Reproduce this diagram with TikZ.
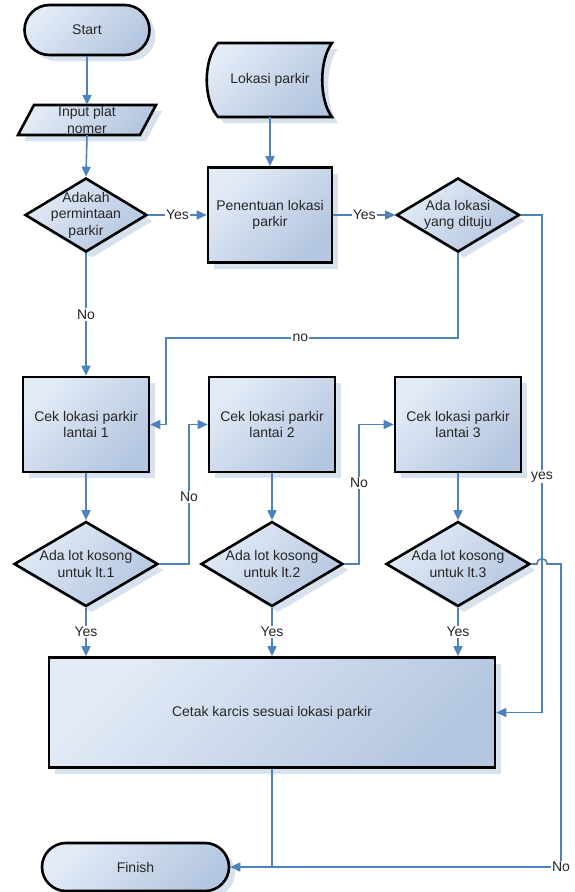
\documentclass[tikz,border=0pt]{standalone}
\usepackage{fontspec}
\setmainfont{Liberation Sans}
\usetikzlibrary{shapes.geometric,shapes.misc,shadows,arrows.meta,calc}

\definecolor{flowblue}{HTML}{4F81BD}
\definecolor{fillhi}{HTML}{E3EBF6}
\definecolor{filllo}{HTML}{B4C6E0}
\definecolor{shadowtint}{HTML}{D8E1EE}
\definecolor{ink}{HTML}{262626}

\tikzset{
  txt/.style={font=\fontsize{14}{16.5}\selectfont, text=ink, align=center},
  flowbox/.style={draw=black, line width=2.6pt, line join=miter,
    top color=fillhi, bottom color=filllo, shading angle=45,
    drop shadow={shadow xshift=6pt, shadow yshift=-6pt, fill=shadowtint, opacity=1}},
  proc/.style={flowbox, rectangle, inner sep=0pt, txt},
  dec/.style={flowbox, diamond, inner sep=0pt},
  term/.style={flowbox, rounded rectangle, inner sep=0pt, txt},
  holder/.style={rectangle, inner sep=0pt, txt},
  conn/.style={draw=flowblue, line width=1.6pt},
  flow/.style={conn, -{Triangle[length=10pt,width=9pt]}},
  lab/.style={fill=white, inner sep=1.2pt, txt}
}

\begin{document}
\begin{tikzpicture}[x=1pt,y=-1pt]
\useasboundingbox (0,0) rectangle (575,892);

% terminals, input and stored data
\node[term, minimum width=125pt, minimum height=50pt] (start) at (87,30) {Start};

\path[flowbox] (34,105) -- (156,105) -- (140,135) -- (18,135) -- cycle;
\node[holder, minimum width=122pt, minimum height=30pt] (inp) at (87,120) {Input plat\\nomer};

\path[flowbox] (218,43) -- (332,43) .. controls (319,60) and (319,100) .. (332,117)
  -- (218,117) .. controls (203,100) and (203,60) .. (218,43) -- cycle;
\node[holder, minimum width=124pt, minimum height=74pt] (lok) at (270,80) {Lokasi parkir};

% upper row
\node[dec, minimum width=122pt, minimum height=74pt,
  label={[txt]center:{Adakah\\permintaan\\parkir}}] (ask) at (86,215) {};
\node[proc, minimum width=124pt, minimum height=95pt] (pen) at (270,215) {Penentuan lokasi\\parkir};
\node[dec, minimum width=123pt, minimum height=74pt,
  label={[txt]center:{Ada lokasi\\yang dituju}}] (dest) at (458,215) {};

% floor checks
\node[proc, minimum width=126pt, minimum height=95pt] (cek1) at (86,424.5) {Cek lokasi parkir\\lantai 1};
\node[proc, minimum width=126pt, minimum height=95pt] (cek2) at (272,424.5) {Cek lokasi parkir\\lantai 2};
\node[proc, minimum width=126pt, minimum height=95pt] (cek3) at (458,424.5) {Cek lokasi parkir\\lantai 3};

\node[dec, minimum width=144pt, minimum height=85pt,
  label={[txt]center:{Ada lot kosong\\untuk lt.1}}] (lot1) at (86,564) {};
\node[dec, minimum width=142pt, minimum height=85pt,
  label={[txt]center:{Ada lot kosong\\untuk lt.2}}] (lot2) at (272,564) {};
\node[dec, minimum width=144pt, minimum height=85pt,
  label={[txt]center:{Ada lot kosong\\untuk lt.3}}] (lot3) at (458,564) {};

% ticket and end
\node[proc, minimum width=446pt, minimum height=110pt] (cetak) at (272,712.5) {Cetak karcis sesuai lokasi parkir};
\node[term, minimum width=187pt, minimum height=48pt] (finish) at (135.5,867) {Finish};

% bend points
\coordinate (nbend) at (166,338);
\coordinate (j1) at (189,424.5);
\coordinate (j2) at (359,424.5);
\coordinate (ybend) at (542,712.5);
\coordinate (hopa) at (537,564);
\coordinate (hopb) at (547,564);
\coordinate (ncorner) at (561,867);

% connectors
\draw[flow] (start.south) -- (inp.north);
\draw[flow] (inp.south) -- (ask.north);
\draw[flow] (lok.south) -- (pen.north);
\draw[flow] (ask.east) -- node[lab]{Yes} (pen.west);
\draw[flow] (pen.east) -- node[lab]{Yes} (dest.west);
\draw[flow] (ask.south) -- node[lab]{No} (cek1.north);
\draw[flow] (dest.south) |- node[lab, pos=0.77]{no} (nbend) -- (nbend |- cek1.east) -- (cek1.east);

\draw[flow] (cek1.south) -- (lot1.north);
\draw[flow] (cek2.south) -- (lot2.north);
\draw[flow] (cek3.south) -- (lot3.north);

\draw[flow] (lot1.east) -| node[lab, pos=0.74]{No} (j1) -- (cek2.west);
\draw[flow] (lot2.east) -| node[lab, pos=0.79]{No} (j2) -- (cek3.west);

\draw[flow] (lot1.south) -- node[lab]{Yes} (lot1.south |- cetak.north);
\draw[flow] (lot2.south) -- node[lab]{Yes} (lot2.south |- cetak.north);
\draw[flow] (lot3.south) -- node[lab]{Yes} (lot3.south |- cetak.north);

\draw[flow] (dest.east) -| node[lab, pos=0.763]{yes} (ybend) -- (cetak.east);

\draw[conn] (cetak.south) -- (cetak.south |- finish.east);
\draw[flow] (lot3.east) -- (hopa) .. controls ($(hopa)+(0,-7)$) and ($(hopb)+(0,-7)$) .. (hopb)
  -- (hopb -| ncorner) -- (ncorner) -- (finish.east);
\node[lab] (nolab) at (ncorner) {No};
\end{tikzpicture}
\end{document}
